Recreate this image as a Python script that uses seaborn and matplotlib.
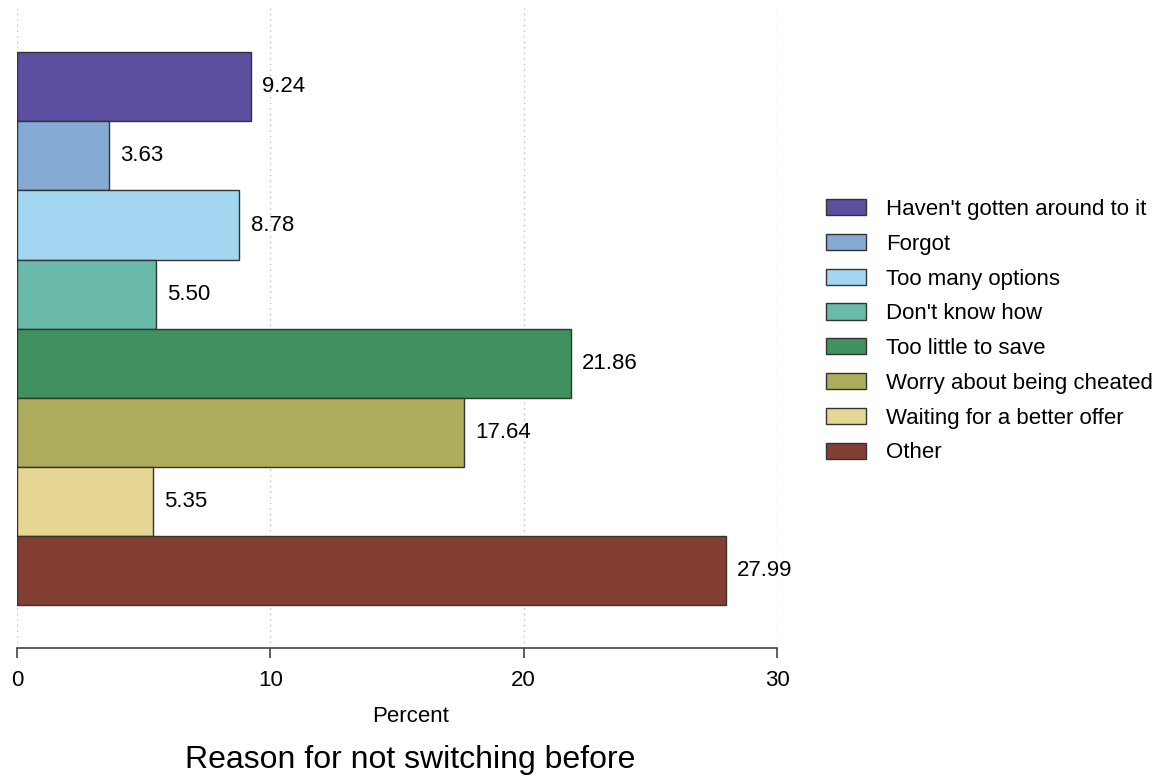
import matplotlib
matplotlib.use("Agg")
import matplotlib.pyplot as plt
import seaborn as sns
import pandas as pd

# data
reasons = [
    "Haven't gotten around to it",
    "Forgot",
    "Too many options",
    "Don't know how",
    "Too little to save",
    "Worry about being cheated",
    "Waiting for a better offer",
    "Other",
]
percent = [9.24, 3.63, 8.78, 5.50, 21.86, 17.64, 5.35, 27.99]
bar_colors = ["#5c4fa0", "#85aad4", "#a3d6f0", "#6abaaa",
              "#3f915d", "#aead5c", "#e6d693", "#843f33"]
x_ticks = [0, 10, 20, 30]

sns.set_style("white")
plt.rcParams['font.family'] = ['Liberation Sans', 'DejaVu Sans']
plt.rcParams['text.color'] = 'black'
plt.rcParams['axes.labelcolor'] = 'black'
plt.rcParams['xtick.color'] = 'black'

df = pd.DataFrame({'reason': reasons, 'percent': percent})

W, H = 1167, 778
fig = plt.figure(figsize=(W / 100, H / 100), dpi=100)
ax = fig.add_axes([17 / W, 1 - 648 / H, (777 - 17) / W, (648 - 8) / H])

sns.barplot(
    data=df, x='percent', y='reason', hue='reason',
    palette=bar_colors, orient='h', width=1.0, dodge=False,
    edgecolor='#333333', linewidth=1.0, saturation=1, legend=True, ax=ax,
)

# value labels at bar ends
for cont in ax.containers:
    ax.bar_label(cont, fmt='%.2f', padding=8, fontsize=16, color='black')

ax.set_xlim(0, 30)
ax.set_ylim(8.12, -1.14)
ax.set_xticks(x_ticks)
ax.set_xticklabels([str(t) for t in x_ticks], fontsize=16)
ax.set_yticks([])
ax.set_ylabel('')
ax.set_xlabel('Percent', fontsize=16)
ax.xaxis.set_label_coords(0.518, -0.09)

# dotted vertical grid
ax.set_axisbelow(True)
ax.grid(axis='x', linestyle=(0, (1, 3)), color='#c0c0c0', linewidth=1.0)
ax.grid(axis='y', visible=False)

for side in ['top', 'right', 'left']:
    ax.spines[side].set_visible(False)
ax.spines['bottom'].set_color('#444444')
ax.spines['bottom'].set_linewidth(1.2)
ax.tick_params(axis='x', bottom=True, length=7, width=1.2, color='#444444',
               labelcolor='black', pad=9)

handles, labels = ax.get_legend_handles_labels()
ax.get_legend().remove()
fig.legend(
    handles, labels, loc='upper left', bbox_to_anchor=(826 / W, 1 - 199 / H),
    frameon=False, fontsize=16, handlelength=1.8, handleheight=0.75,
    handletextpad=0.9, labelspacing=0.62, borderpad=0, borderaxespad=0,
)

fig.text(410.5 / W, 1 - 760 / H, 'Reason for not switching before',
         ha='center', va='center', fontsize=23)

fig.savefig('out.png', dpi=100, facecolor='white')
